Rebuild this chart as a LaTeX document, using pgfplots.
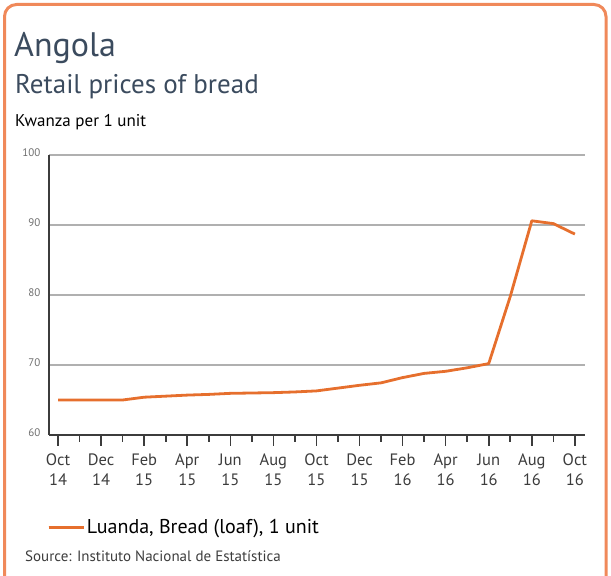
\documentclass[border=0pt]{standalone}
\usepackage{fontspec}
\setmainfont{PT Sans}
\usepackage{pgfplots}
\pgfplotsset{compat=1.18}

\definecolor{titleblue}{HTML}{3B4B5E}
\definecolor{frameorange}{HTML}{F0895A}
\definecolor{lineorange}{HTML}{E66F2D}
\definecolor{gridgrey}{HTML}{B0B0B0}
\definecolor{axisdark}{HTML}{3C3C3C}
\definecolor{labelgrey}{HTML}{6E6E6E}

\begin{document}
\begin{tikzpicture}[x=1pt,y=1pt]
  \useasboundingbox (0,0) rectangle (611,576);
  \clip (0,0) rectangle (611,576);
  % outer frame, open at the bottom edge of the picture
  \draw[frameorange, line width=3pt, rounded corners=12pt] (4.5,-20) rectangle (606,571.5);

  % headings
  \node[anchor=base west, inner sep=0, text=titleblue, font=\fontsize{34}{38}\selectfont] at (14,519) {Angola};
  \node[anchor=base west, inner sep=0, text=titleblue, font=\fontsize{27}{31}\selectfont] at (15,482) {Retail prices of bread};
  \node[anchor=base west, inner sep=0, text=black, font=\fontsize{17}{20}\selectfont] at (15,449) {Kwanza per 1 unit};

  \begin{axis}[
    at={(49pt,141pt)}, anchor=south west,
    scale only axis,
    width=536pt, height=280pt,
    xmin=-0.42, xmax=24.47,
    ymin=60, ymax=100,
    axis x line*=bottom,
    axis y line*=left,
    axis line style={axisdark, line width=1.6pt},
    xtick={0,2,...,24},
    minor xtick={1,3,...,23},
    xticklabels={{Oct\\14},{Dec\\14},{Feb\\15},{Apr\\15},{Jun\\15},{Aug\\15},{Oct\\15},{Dec\\15},{Feb\\16},{Apr\\16},{Jun\\16},{Aug\\16},{Oct\\16}},
    xticklabel style={align=center, font=\fontsize{16.5}{20.5}\selectfont, text=axisdark, yshift=-4pt},
    ytick={60,70,80,90,100},
    yticklabel style={font=\fontsize{11}{13}\selectfont, text=labelgrey, yshift=2pt, xshift=6pt},
    /pgf/number format/assume math mode=true,
    tick align=outside,
    major tick length=11pt,
    minor tick length=7pt,
    every tick/.style={axisdark, line width=1.6pt},
    y tick style={draw=none},
    ymajorgrids=true,
    major grid style={gridgrey, line width=2.6pt},
    clip=false,
    legend style={at={(axis description cs:-0.004,-0.329)}, anchor=west, draw=none, fill=none,
      inner sep=0pt, font=\fontsize{20}{24}\selectfont},
    legend image code/.code={\path (0pt,0pt) -- (35pt,0pt);
      \draw[#1, line width=3pt] (0pt,0pt) -- (30pt,0pt);},
  ]
    \addplot[color=lineorange, line width=2.8pt, mark=none, line join=round] coordinates {
      (0,65.0)(1,65.0)(2,65.0)(3,65.0)(4,65.4)(5,65.55)(6,65.7)(7,65.8)(8,65.95)
      (9,66.0)(10,66.05)(11,66.15)(12,66.3)(13,66.7)(14,67.1)(15,67.45)(16,68.2)
      (17,68.8)(18,69.1)(19,69.6)(20,70.2)(21,79.8)(22,90.6)(23,90.2)(24,88.7)
    };
    \addlegendentry{Luanda, Bread (loaf), 1 unit}
  \end{axis}

  \node[anchor=base west, inner sep=0, text=axisdark, font=\fontsize{15}{18}\selectfont] at (25,14) {Source: Instituto Nacional de Estatística};
\end{tikzpicture}
\end{document}
